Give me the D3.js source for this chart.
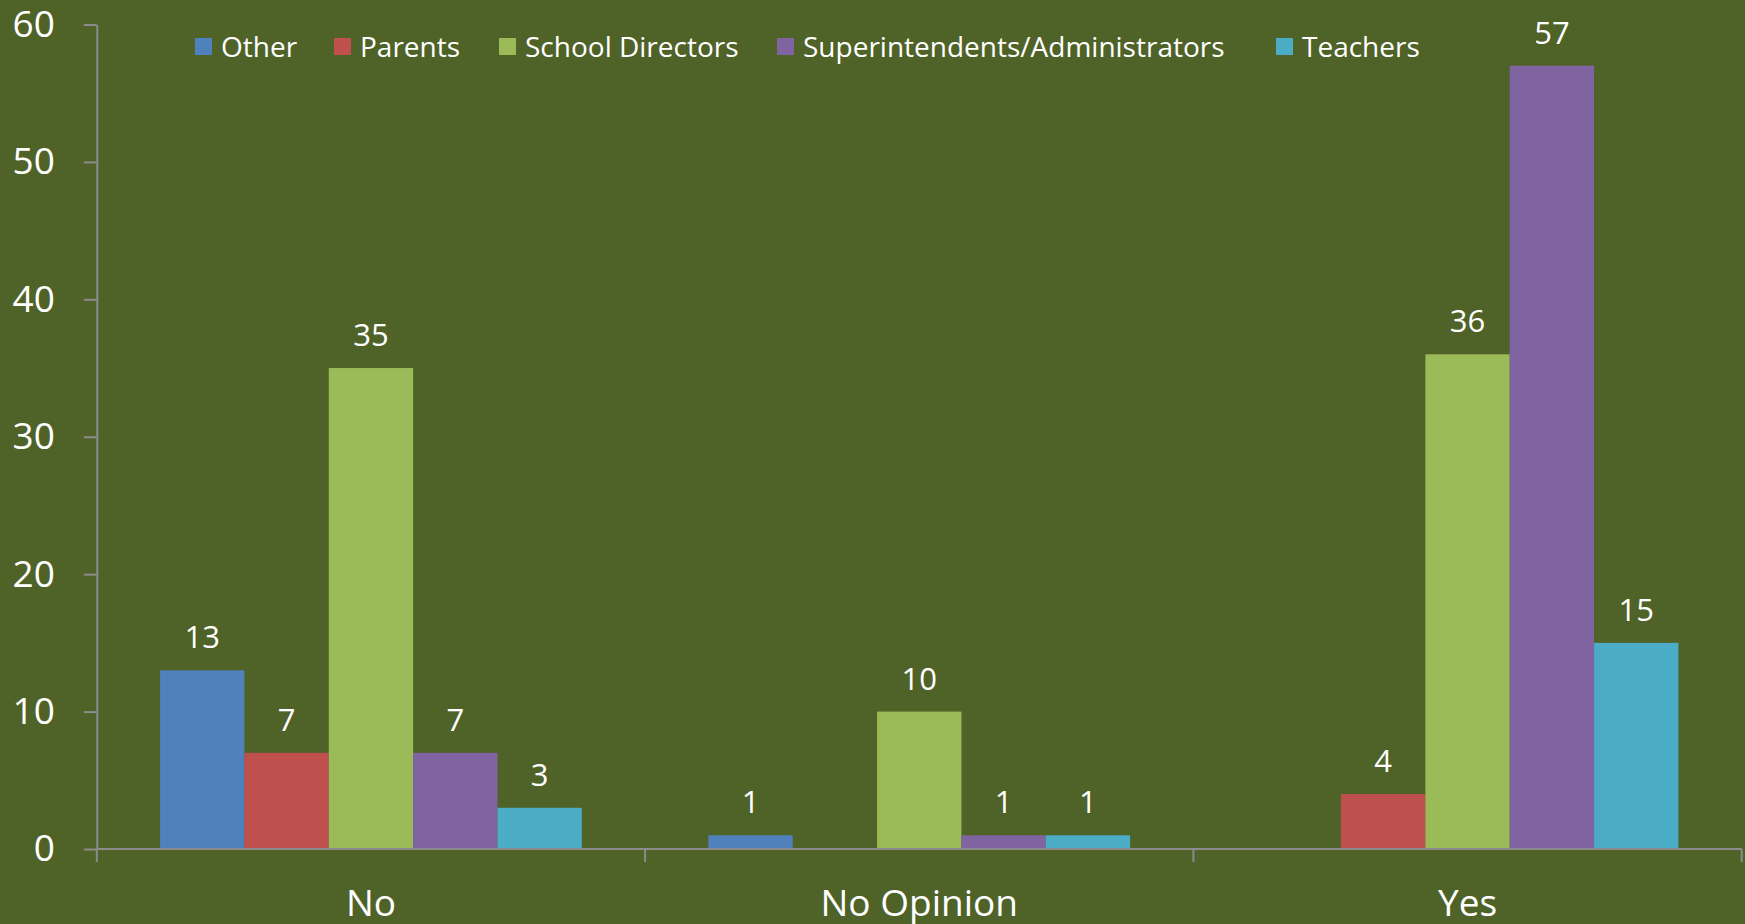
<!DOCTYPE html>
<html>
<head>
<meta charset="utf-8">
<script src="https://cdn.jsdelivr.net/npm/d3@7"></script>
<style>
  html, body { margin: 0; padding: 0; background: #4F6228; overflow: hidden; }
  svg { display: block; }
  text { font-family: "Open Sans", "Noto Sans", sans-serif; fill: #FFFFFF; }
</style>
</head>
<body>
<svg id="chart" width="1745" height="924"></svg>
<script>
const categories = ["No", "No Opinion", "Yes"];
const seriesNames = ["Other", "Parents", "School Directors", "Superintendents/Administrators", "Teachers"];
const seriesColors = ["#4F81BD", "#C0504D", "#9BBB59", "#8064A2", "#4BACC6"];
const otherValues = [13, 1, null];
const parentsValues = [7, null, 4];
const directorsValues = [35, 10, 36];
const superValues = [7, 1, 57];
const teachersValues = [3, 1, 15];
const yTicks = [0, 10, 20, 30, 40, 50, 60];

const seriesValues = [otherValues, parentsValues, directorsValues, superValues, teachersValues];

const W = 1745, H = 924;
const plot = { left: 96.8, right: 1741.7, top: 24.5, bottom: 849 };
const axisColor = "#8C8C8C";

const svg = d3.select("#chart");
svg.append("rect").attr("width", W).attr("height", H).attr("fill", "#4F6228");

const x0 = d3.scaleBand().domain(categories).range([plot.left, plot.right]).paddingInner(0).paddingOuter(0);
const x1 = d3.scaleBand().domain(seriesNames).range([0, x0.bandwidth()]).paddingInner(0).paddingOuter(0.75);
const y = d3.scaleLinear().domain([0, 60]).range([plot.bottom, plot.top]);

// bars
const data = [];
categories.forEach((c, ci) => {
  seriesNames.forEach((s, si) => {
    const v = seriesValues[si][ci];
    if (v !== null && v !== undefined) data.push({ c, s, v, color: seriesColors[si] });
  });
});

svg.append("g").selectAll("rect").data(data).join("rect")
  .attr("x", d => x0(d.c) + x1(d.s))
  .attr("y", d => y(d.v))
  .attr("width", x1.bandwidth())
  .attr("height", d => y(0) - y(d.v))
  .attr("fill", d => d.color);

// data labels
svg.append("g").selectAll("text").data(data).join("text")
  .attr("x", d => x0(d.c) + x1(d.s) + x1.bandwidth() / 2)
  .attr("y", d => y(d.v) - 22)
  .attr("text-anchor", "middle")
  .attr("font-size", 31)
  .text(d => d.v);

// y axis
const yAxis = d3.axisLeft(y).tickValues(yTicks).tickSize(13).tickPadding(29).tickSizeOuter(0);
const gy = svg.append("g").attr("transform", `translate(${plot.left},0)`).call(yAxis);
gy.select(".domain").attr("stroke", axisColor).attr("stroke-width", 2);
gy.selectAll(".tick line").attr("stroke", axisColor).attr("stroke-width", 2);
gy.selectAll(".tick text").attr("font-size", 37).attr("fill", "#FFFFFF")
  .attr("font-family", '"Open Sans", "Noto Sans", sans-serif');

// x axis (ticks at category boundaries)
const boundaries = categories.map(c => x0(c)).concat([plot.right]);
const gx = svg.append("g");
gx.append("line").attr("x1", plot.left).attr("x2", plot.right).attr("y1", y(0)).attr("y2", y(0))
  .attr("stroke", axisColor).attr("stroke-width", 2);
gx.selectAll("line.tk").data(boundaries).join("line").attr("class", "tk")
  .attr("x1", d => d).attr("x2", d => d).attr("y1", y(0)).attr("y2", y(0) + 13)
  .attr("stroke", axisColor).attr("stroke-width", 2);
gx.selectAll("text").data(categories).join("text")
  .attr("x", d => x0(d) + x0.bandwidth() / 2)
  .attr("y", 916)
  .attr("text-anchor", "middle")
  .attr("font-size", 37)
  .text(d => d);

// legend
const legendX = [195, 334, 499, 777, 1276];
const lg = svg.append("g");
const items = lg.selectAll("g").data(seriesNames).join("g")
  .attr("transform", (d, i) => `translate(${legendX[i]},0)`);
items.append("rect").attr("x", 0).attr("y", 38).attr("width", 17).attr("height", 17)
  .attr("fill", (d, i) => seriesColors[i]);
items.append("text").attr("x", 26).attr("y", 56.5).attr("font-size", 28).text(d => d);
</script>
</body>
</html>
